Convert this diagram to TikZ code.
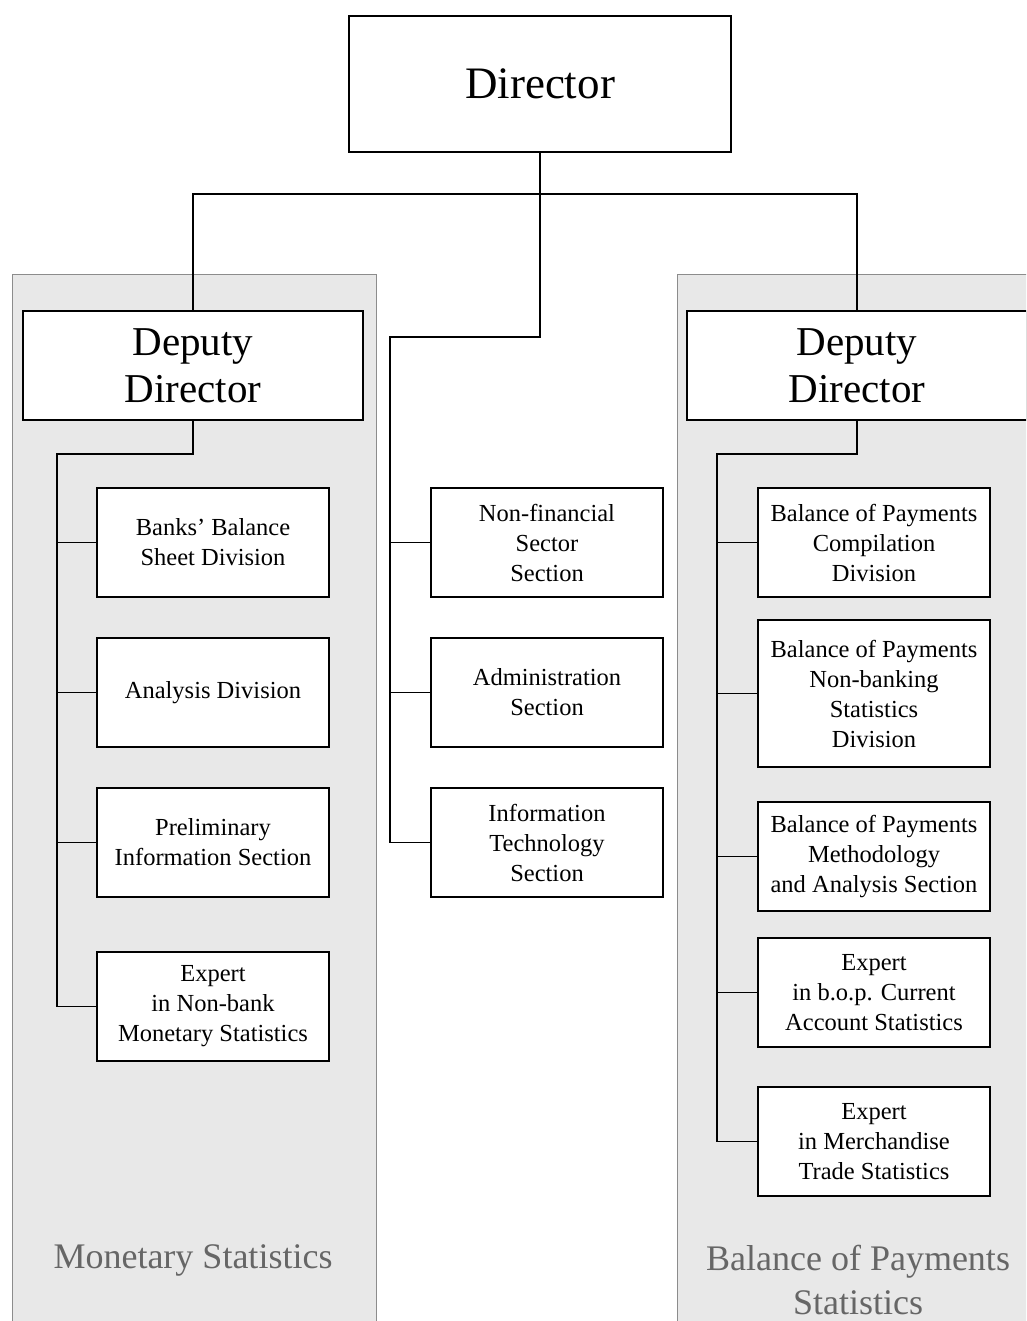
\documentclass[tikz,border=0pt]{standalone}
\usepackage{fontspec}
\setmainfont{Liberation Serif}
\usetikzlibrary{positioning}

\begin{document}
\begin{tikzpicture}[
    x=1pt, y=-1pt,
    node distance=39.8pt and 100.8pt,
    panel/.style={draw=black!45, fill=black!9, line width=0.8pt},
    topbox/.style={rectangle, draw, fill=white, line width=1.2pt, minimum width=382pt, minimum height=136pt, font=\fontsize{45}{50}\selectfont},
    depbox/.style={rectangle, draw, fill=white, line width=1.2pt, minimum width=340pt, minimum height=109pt, align=center, font=\fontsize{41}{47}\selectfont},
    unit/.style={rectangle, draw, fill=white, line width=1.2pt, minimum width=232pt, minimum height=109pt, align=center, inner sep=2pt, font=\fontsize{24.5}{30}\selectfont},
    tag/.style={align=center, text=black!60, font=\fontsize{36}{44}\selectfont},
    link/.style={line width=1.2pt}
]
\clip (0,0) rectangle (1026,1321);

% shaded areas of the two departments
\draw[panel] (12,274) rectangle (376,1340);
\draw[panel] (677,274) rectangle (1040,1340);
\node[tag] (mon) at (193,1260) {Monetary Statistics};
\node[tag] (bop) at (858,1280) {Balance of Payments\\Statistics};

\node[topbox] (dir) at (540,84) {Director};
\node[depbox] (dep1) at (193,365.5) {Deputy\\Director};
\node[depbox] (dep2) at (857,365.5) {Deputy\\Director};

% monetary statistics
\node[unit] (bbs) at (213,542.5) {Banks’ Balance\\Sheet Division};
\node[unit, below=of bbs] (ana) {Analysis Division};
\node[unit, below=of ana] (pre) {Preliminary\\Information Section};
\node[unit, below=53.8pt of pre] (nbm) {Expert\\in Non-bank\\Monetary Statistics};

% sections under the director
\node[unit, right=of bbs] (nfs) {Non-financial\\Sector\\Section};
\node[unit, right=of ana] (adm) {Administration\\Section};
\node[unit, right=of pre] (its) {Information\\Technology\\Section};

% balance of payments statistics
\node[unit] (bpc) at (874,542.5) {Balance of Payments\\Compilation\\Division};
\node[unit, minimum height=147pt, below=21.8pt of bpc] (bpn) {Balance of Payments\\Non-banking\\Statistics\\Division};
\node[unit, below=33.8pt of bpn] (bpm) {Balance of Payments\\Methodology\\and Analysis Section};
\node[unit, below=25.8pt of bpm] (cas) {Expert\\in b.o.p. Current\\Account Statistics};
\node[unit, below=38.8pt of cas] (mts) {Expert\\in Merchandise\\Trade Statistics};

\coordinate (top) at (540,194);
\coordinate (mid) at (390,337);
\coordinate (lbus) at (57,454);
\coordinate (rbus) at (717,454);

\draw[link] (dir.south) -- (top);
\draw[link] (top) -| (dep1.north);
\draw[link] (top) -| (dep2.north);
\draw[link] (top) |- (mid) |- (its.west);
\draw[link] (dep1.south) |- (lbus) |- (nbm.west);
\draw[link] (dep2.south) |- (rbus) |- (mts.west);
\foreach \u in {nfs,adm}
    \draw[link] (\u.west) -- (\u.west -| mid);
\foreach \u in {bbs,ana,pre}
    \draw[link] (\u.west) -- (\u.west -| lbus);
\foreach \u in {bpc,bpn,bpm,cas}
    \draw[link] (\u.west) -- (\u.west -| rbus);
\end{tikzpicture}
\end{document}
